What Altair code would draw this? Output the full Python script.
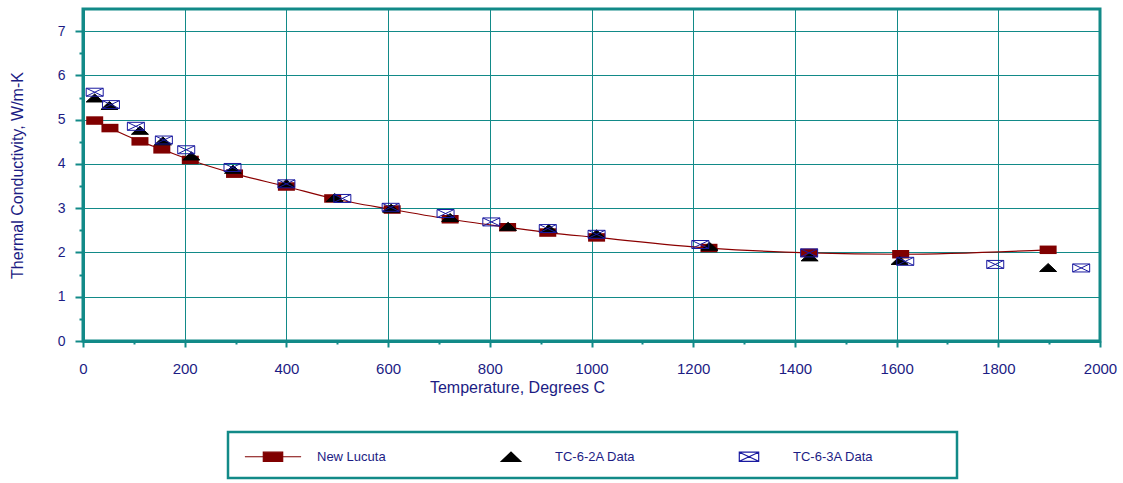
import altair as alt
import pandas as pd

# ---------------- data ----------------
lucuta_temp = [23, 53, 112, 155, 211, 298, 400, 491, 608, 722, 835, 914, 1010, 1231, 1428, 1608, 1898]
lucuta_k = [4.98, 4.81, 4.51, 4.33, 4.09, 3.78, 3.49, 3.22, 2.97, 2.75, 2.57, 2.45, 2.34, 2.10, 1.99, 1.96, 2.06]

tc2a_temp = [23, 52, 112, 157, 213, 295, 400, 495, 606, 722, 836, 916, 1010, 1232, 1429, 1606, 1898]
tc2a_k = [5.49, 5.32, 4.76, 4.52, 4.18, 3.88, 3.56, 3.24, 3.00, 2.79, 2.59, 2.54, 2.42, 2.14, 1.90, 1.82, 1.66]

tc3a_temp = [23, 55, 104, 159, 203, 294, 400, 510, 605, 713, 803, 914, 1010, 1214, 1428, 1617, 1794, 1963]
tc3a_k = [5.62, 5.34, 4.85, 4.54, 4.32, 3.92, 3.55, 3.22, 3.02, 2.88, 2.69, 2.54, 2.41, 2.18, 1.99, 1.80, 1.73, 1.65]

series_names = ["New Lucuta", "TC-6-2A Data", "TC-6-3A Data"]

x_tick_values = [0, 100, 200, 300, 400, 500, 600, 700, 800, 900, 1000,
                 1100, 1200, 1300, 1400, 1500, 1600, 1700, 1800, 1900, 2000]
y_tick_values = [0, 0.5, 1, 1.5, 2, 2.5, 3, 3.5, 4, 4.5, 5, 5.5, 6, 6.5, 7]

x_title = "Temperature, Degrees C"
y_title = "Thermal Conductivity, W/m-K"

# ---------------- styling ----------------
TEAL = "#128a88"
NAVY = "#1c1c84"
MAROON = "#800000"
BOXBLUE = "#1a1aa0"
FONT = "Liberation Sans"

RECT = "M-1,-0.5 L1,-0.5 L1,0.5 L-1,0.5 Z"
LEG_LINE_RECT = "M-2.9,0 L2.9,0 M-1,-0.47 L1,-0.47 L1,0.47 L-1,0.47 Z"
TRI = "M-1,0.47 L1,0.47 L0,-0.47 Z"
BOX_X = "M-1,-0.47 L1,-0.47 L1,0.47 L-1,0.47 Z M-1,-0.47 L1,0.47 M-1,0.47 L1,-0.47"

df_lucuta = pd.DataFrame({"T": lucuta_temp, "k": lucuta_k})
df_pts = pd.concat([
    pd.DataFrame({"T": tc2a_temp, "k": tc2a_k, "series": series_names[1]}),
    pd.DataFrame({"T": tc3a_temp, "k": tc3a_k, "series": series_names[2]}),
], ignore_index=True)

x_axis = alt.Axis(
    values=x_tick_values, format="d",
    labelExpr="datum.value % 200 === 0 ? datum.label : ''",
    grid=True, gridColor=TEAL, gridWidth=1,
    gridOpacity={"condition": {"test": "datum.value % 200 === 0", "value": 1}, "value": 0},
    tickSize={"condition": {"test": "datum.value % 200 === 0", "value": 6}, "value": 3},
    tickColor=TEAL, tickWidth=2, domainColor=TEAL, domainWidth=3,
    labelColor=NAVY, labelFont=FONT, labelFontSize=15, labelPadding=14,
    labelFlush=False, labelOverlap=False,
    title=x_title, titleColor=NAVY, titleFont=FONT, titleFontSize=16,
    titleFontWeight="normal", titleX=434, titleY=51,
    titleAlign="center", titleBaseline="alphabetic",
)
y_axis = alt.Axis(
    values=y_tick_values,
    labelExpr="datum.value % 1 === 0 ? format(datum.value, 'd') : ''",
    grid=True, gridColor=TEAL, gridWidth=1,
    gridOpacity={"condition": {"test": "datum.value % 1 === 0", "value": 1}, "value": 0},
    tickSize={"condition": {"test": "datum.value % 1 === 0", "value": 8}, "value": 4},
    tickColor=TEAL, tickWidth=2, domainColor=TEAL, domainWidth=3,
    labelColor=NAVY, labelFont=FONT, labelFontSize=14, labelPadding=10,
    labelFlush=False, labelOverlap=False,
    title=y_title, titleColor=NAVY, titleFont=FONT, titleFontSize=16,
    titleFontWeight="normal", titleX=-61, titleY=166, titleAngle=270,
    titleAlign="center", titleBaseline="alphabetic",
)

X = alt.X("T:Q", scale=alt.Scale(domain=[0, 2000], nice=False, zero=False), axis=x_axis)
Y = alt.Y("k:Q", scale=alt.Scale(domain=[0, 7.5], nice=False, zero=False), axis=y_axis)

legend = alt.Legend(
    orient="none", legendX=145, legendY=423, direction="horizontal",
    columns=3, gridAlign="all", columnPadding=82,
    padding=14, strokeColor=TEAL, fillColor="white",
    symbolSize=376, symbolStrokeWidth=1.2, symbolOffset=20.5,
    labelOffset=33.5, labelFont=FONT, labelFontSize=13, labelColor=NAVY,
    labelLimit=200,
    title=" ", titleOrient="right", titlePadding=70, titleFontSize=1,
)

line = alt.Chart(df_lucuta).mark_line(
    color="#8b0000", strokeWidth=1.2, interpolate="monotone"
).encode(x=X, y=Y)

squares = alt.Chart(df_lucuta).mark_point(
    shape=RECT, size=289, filled=True, color=MAROON, opacity=1, strokeWidth=0
).encode(x=X, y=Y)

pts = alt.Chart(df_pts).mark_point(
    size=289, filled=True, opacity=1, strokeWidth=1
).encode(
    x=X, y=Y,
    shape=alt.Shape("series:N", scale=alt.Scale(domain=series_names, range=[LEG_LINE_RECT, TRI, BOX_X]), legend=legend),
    fill=alt.Fill("series:N", scale=alt.Scale(domain=series_names, range=[MAROON, "#000000", "transparent"]), legend=legend),
    stroke=alt.Stroke("series:N", scale=alt.Scale(domain=series_names, range=[MAROON, "#000000", BOXBLUE]), legend=legend),
)

chart = alt.layer(line, squares, pts).properties(
    width=1017, height=332,
    autosize=alt.AutoSizeParams(type="none"),
    padding={"left": 83, "top": 9, "right": 23, "bottom": 142},
    background="white",
).configure_view(stroke=TEAL, strokeWidth=3).configure_legend(strokeWidth=2.5)

chart.save("out.html", embed_options={"renderer": "svg", "actions": False})
